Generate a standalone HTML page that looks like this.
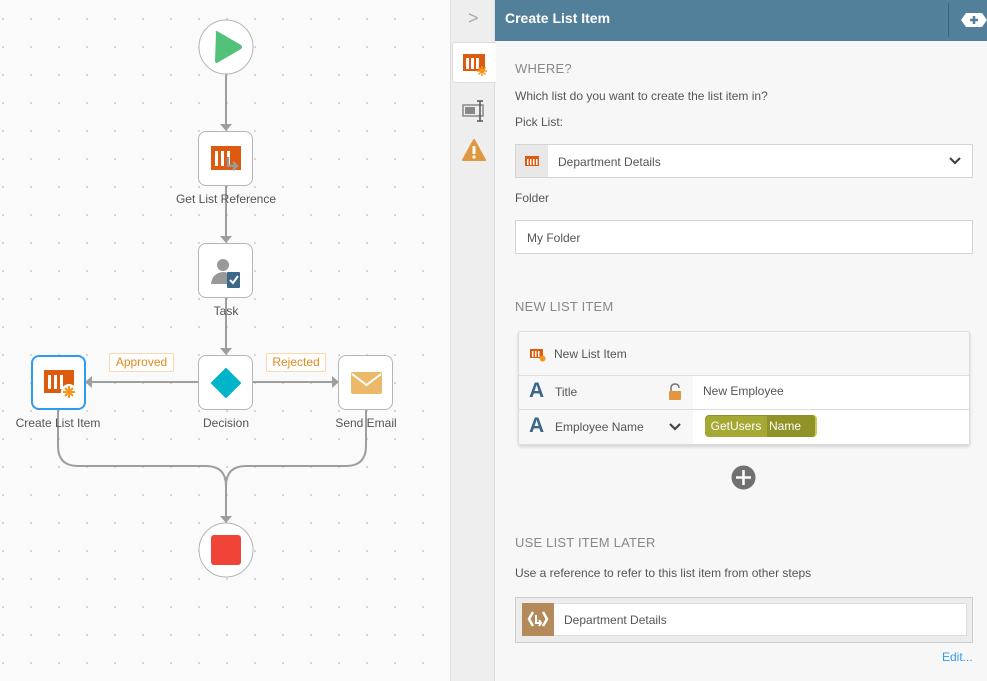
<!DOCTYPE html>
<html><head><meta charset="utf-8"><style>
*{box-sizing:border-box;margin:0;padding:0}
body{width:987px;height:681px;overflow:hidden;font-family:"Liberation Sans",sans-serif;background:#f7f7f7;position:relative}
.abs{position:absolute}
#canvas{left:0;top:0;width:450px;height:681px;background-color:#fafafa;background-image:radial-gradient(circle,#cfcfcf 0.8px,transparent 1.2px);background-size:28px 28px;background-position:-11px 5px}
.node{position:absolute;width:55px;height:55px;border:1px solid #b5b5b5;border-radius:8px;background:#fff}
.lbl{position:absolute;font-size:12px;color:#555;text-align:center;width:140px}
.t{position:absolute;font-size:12px;color:#555;white-space:nowrap}
.h{position:absolute;font-size:13px;color:#888;letter-spacing:.2px}
.box{position:absolute;background:#fff;border:1px solid #d4d4d4}
</style></head><body>
<div id="canvas" class="abs"></div>
<svg class="abs" style="left:0;top:0" width="450" height="681">
<g stroke="#9e9e9e" stroke-width="2" fill="none">
<line x1="226" y1="74" x2="226" y2="124"/>
<line x1="226" y1="186" x2="226" y2="236"/>
<line x1="226" y1="298" x2="226" y2="348"/>
<line x1="199" y1="382" x2="92" y2="382"/>
<line x1="253" y1="382" x2="332" y2="382"/>
<path d="M58 410 V446 Q58 466 78 466 H206 Q226 466 226 486 V516"/>
<path d="M366 410 V446 Q366 466 346 466 H246 Q226 466 226 486"/>
</g>
<g fill="#9e9e9e">
<path d="M220 124 L232 124 L226 131 Z"/><path d="M220 236 L232 236 L226 243 Z"/><path d="M220 348 L232 348 L226 355 Z"/>
<path d="M92 376 L92 388 L85 382 Z"/><path d="M332 376 L332 388 L339 382 Z"/><path d="M220 516 L232 516 L226 523 Z"/>
</g>
<circle cx="226" cy="47" r="27" fill="#fff" stroke="#b5b5b5"/>
<path d="M216 33 Q215 31 217 31 L241 45 Q243 47 241 49 L217 63 Q215 63 215 61 Z" fill="#52c27a"/>
<circle cx="226" cy="550" r="27" fill="#fff" stroke="#b5b5b5"/>
<rect x="211" y="535" width="30" height="30" rx="3" fill="#f04438"/>
</svg>
<div class="node" style="left:198px;top:131px"><svg width="55" height="55"><rect x="12" y="14" width="30" height="24" fill="#dd5a0e"/><g fill="#fff"><rect x="16" y="19" width="3" height="15"/><rect x="22" y="19" width="3" height="15"/><rect x="28" y="19" width="3" height="15"/></g><path d="M29 25 V34 H38 M34 30 L38 34 L34 38" stroke="#999" stroke-width="2.5" fill="none"/></svg></div>
<div class="lbl" style="left:156px;top:192px">Get List Reference</div>
<div class="node" style="left:198px;top:243px"><svg width="55" height="55"><circle cx="24" cy="21" r="6" fill="#999"/><path d="M12 40 Q13 29 24 28 Q30 28 32 32 V40 Z" fill="#999"/><rect x="28" y="28" width="13" height="16" rx="1" fill="#3b6888"/><path d="M31 36 L34 39 L39 32" stroke="#fff" stroke-width="2" fill="none"/></svg></div>
<div class="lbl" style="left:156px;top:304px">Task</div>
<div class="node" style="left:198px;top:355px"><svg width="55" height="55"><path d="M27 13 L41 27 L27 41 L13 27 Z" fill="#00b5c9" stroke="#00b5c9" stroke-width="2" stroke-linejoin="round"/></svg></div>
<div class="lbl" style="left:156px;top:416px">Decision</div>
<div class="node" style="left:31px;top:355px;border:2px solid #2d9bf0"><svg width="52" height="52"><rect x="11" y="13" width="30" height="23" fill="#dd5a0e"/><g fill="#fff"><rect x="15" y="18" width="3" height="14"/><rect x="21" y="18" width="3" height="14"/><rect x="27" y="18" width="3" height="14"/></g><circle cx="36" cy="35" r="8" fill="#fff"/><g stroke="#f7941d" stroke-width="2"><line x1="36" y1="29" x2="36" y2="41"/><line x1="30" y1="35" x2="42" y2="35"/><line x1="32" y1="31" x2="40" y2="39"/><line x1="40" y1="31" x2="32" y2="39"/></g></svg></div>
<div class="lbl" style="left:-12px;top:416px">Create List Item</div>
<div class="node" style="left:338px;top:355px"><svg width="55" height="55"><rect x="12" y="16" width="31" height="22" rx="2" fill="#ecb96a"/><path d="M13 18 L27.5 29 L42 18" stroke="#fff" stroke-width="2" fill="none"/></svg></div>
<div class="lbl" style="left:296px;top:416px">Send Email</div>
<div class="abs" style="left:109px;top:353px;width:65px;height:19px;border:1px solid #fbd9a8;border-radius:2px;background:#fff;color:#e08b22;font-size:12px;text-align:center;line-height:17px">Approved</div>
<div class="abs" style="left:266px;top:353px;width:60px;height:19px;border:1px solid #fbd9a8;border-radius:2px;background:#fff;color:#e08b22;font-size:12px;text-align:center;line-height:17px">Rejected</div>

<div class="abs" style="left:450px;top:0;width:45px;height:681px;background:#eeeeee;border-left:1px solid #ddd;border-right:1px solid #ddd"></div>
<div class="abs" style="left:468px;top:8px;color:#aaa;font-size:18px">&gt;</div>
<div class="abs" style="left:452px;top:42px;width:44px;height:41px;background:#fff;border:1px solid #ddd;border-right:none;border-radius:3px 0 0 3px"></div>
<svg class="abs" style="left:462px;top:52px" width="26" height="24"><rect x="1" y="2" width="22" height="17" fill="#dd5a0e"/><g fill="#fff"><rect x="4" y="6" width="3" height="11"/><rect x="9" y="6" width="3" height="11"/><rect x="14" y="6" width="3" height="11"/></g><g stroke="#f7941d" stroke-width="1.5"><line x1="20" y1="14" x2="20" y2="24"/><line x1="15" y1="19" x2="25" y2="19"/><line x1="16.5" y1="15.5" x2="23.5" y2="22.5"/><line x1="23.5" y1="15.5" x2="16.5" y2="22.5"/></g></svg>
<svg class="abs" style="left:462px;top:100px" width="26" height="22"><rect x="1" y="5" width="20" height="11" fill="none" stroke="#888" stroke-width="1.5"/><rect x="3" y="7" width="10" height="7" fill="#888"/><path d="M15 1 H21 M18 1 V21 M15 21 H21" stroke="#555" stroke-width="1.5"/></svg>
<svg class="abs" style="left:462px;top:138px" width="24" height="24"><path d="M12 2 L23 22 H1 Z" fill="#e0973d" stroke="#e0973d" stroke-linejoin="round" stroke-width="2"/><rect x="10.5" y="8" width="3" height="8" fill="#fff"/><circle cx="12" cy="19" r="1.6" fill="#fff"/></svg>

<div class="abs" style="left:495px;top:0;width:492px;height:41px;background:#52809a"></div>
<div class="abs" style="left:505px;top:10px;color:#fff;font-size:14px;font-weight:bold">Create List Item</div>
<div class="abs" style="left:948px;top:3px;width:1px;height:34px;background:#3e6378"></div>
<svg class="abs" style="left:960px;top:12px" width="27" height="16"><path d="M6 1 H22 L27 8 L22 15 H6 L1 8 Z" fill="#fff"/><path d="M14 4 V12 M10 8 H18" stroke="#52809a" stroke-width="2.5"/></svg>

<div class="h" style="left:515px;top:61px">WHERE?</div>
<div class="t" style="left:515px;top:89px">Which list do you want to create the list item in?</div>
<div class="t" style="left:515px;top:115px">Pick List:</div>
<div class="box" style="left:515px;top:144px;width:458px;height:34px"><div class="abs" style="left:0;top:0;width:32px;height:32px;background:#e8e8e8"></div>
<svg class="abs" style="left:9px;top:11px" width="14" height="10"><rect width="14" height="10" fill="#dd5a0e"/><g fill="#fff"><rect x="2" y="3" width="1.5" height="6"/><rect x="5" y="3" width="1.5" height="6"/><rect x="8" y="3" width="1.5" height="6"/><rect x="11" y="3" width="1.5" height="6"/></g></svg>
<div class="t" style="left:42px;top:10px;font-size:12px">Department Details</div>
<svg class="abs" style="left:432px;top:11px" width="14" height="10"><path d="M2 2 L7 7 L12 2" stroke="#444" stroke-width="2.2" fill="none"/></svg></div>
<div class="t" style="left:515px;top:191px">Folder</div>
<div class="box" style="left:515px;top:220px;width:458px;height:34px"><div class="t" style="left:11px;top:10px">My Folder</div></div>
<div class="h" style="left:515px;top:299px">NEW LIST ITEM</div>
<div class="abs" style="left:518px;top:331px;width:452px;height:114px;border:1px solid #ddd;border-radius:3px;background:#f7f7f7;box-shadow:0 2px 3px rgba(0,0,0,.15)">
<svg class="abs" style="left:11px;top:16px" width="16" height="14"><rect x="0" y="1" width="13" height="9" fill="#dd5a0e"/><g fill="#fff"><rect x="2" y="3" width="1.5" height="6"/><rect x="5" y="3" width="1.5" height="6"/><rect x="8" y="3" width="1.5" height="6"/></g><circle cx="12.5" cy="10.5" r="3" fill="#f7941d"/></svg>
<div class="t" style="left:35px;top:15px">New List Item</div>
<div class="abs" style="left:0;top:43px;width:450px;height:1px;background:#ddd"></div>
<div class="abs" style="left:174px;top:44px;width:276px;height:34px;background:#fff"></div>
<div class="abs" style="left:0;top:77px;width:450px;height:1px;background:#ddd"></div>
<div class="abs" style="left:174px;top:78px;width:276px;height:34px;background:#fff"></div>
<div class="abs" style="left:10px;top:47px;font-size:21px;font-weight:bold;color:#3b6888">A</div>
<div class="t" style="left:36px;top:53px">Title</div>
<svg class="abs" style="left:149px;top:51px" width="14" height="17"><path d="M3 8 V5 Q3 1 7 1 Q11 1 11 5" stroke="#777" stroke-width="1.5" fill="none"/><rect x="1" y="8" width="12" height="9" rx="1" fill="#e0973d"/></svg>
<div class="t" style="left:184px;top:52px">New Employee</div>
<div class="abs" style="left:10px;top:82px;font-size:21px;font-weight:bold;color:#3b6888">A</div>
<div class="t" style="left:36px;top:88px">Employee Name</div>
<svg class="abs" style="left:149px;top:90px" width="14" height="10"><path d="M2 2 L7 7 L12 2" stroke="#444" stroke-width="2.2" fill="none"/></svg>
<div class="abs" style="left:186px;top:83px;width:112px;height:22px;border-radius:4px;background:#8f9328;border-right:2px solid #c9cc4f"></div>
<div class="abs" style="left:186px;top:84px;width:62px;height:21px;border-radius:4px 0 0 4px;background:#a5a832;color:#fff;font-size:12px;line-height:21px;text-align:center">GetUsers</div>
<div class="abs" style="left:250px;top:84px;color:#fff;font-size:12px;line-height:21px">Name</div>
</div>
<svg class="abs" style="left:731px;top:465px" width="25" height="25"><circle cx="12.5" cy="12.5" r="12" fill="#707070"/><path d="M12.5 5 V20 M5 12.5 H20" stroke="#fff" stroke-width="2.5"/></svg>
<div class="h" style="left:515px;top:535px">USE LIST ITEM LATER</div>
<div class="t" style="left:515px;top:566px">Use a reference to refer to this list item from other steps</div>
<div class="abs" style="left:515px;top:597px;width:458px;height:46px;background:#ececec;border:1px solid #ccc"></div>
<div class="abs" style="left:522px;top:603px;width:445px;height:33px;background:#fff;border:1px solid #ddd"></div>
<div class="abs" style="left:522px;top:603px;width:32px;height:33px;background:#b58a5a"></div>
<svg class="abs" style="left:526px;top:607px" width="24" height="24"><path d="M7 5 L3 12 L7 19 M17 5 L21 12 L17 19" stroke="#fff" stroke-width="2.5" fill="none"/><path d="M10 8 V16 H15 M13 13 L15 16 L13 19" stroke="#fff" stroke-width="2" fill="none"/></svg>
<div class="t" style="left:564px;top:613px">Department Details</div>
<div class="t" style="left:942px;top:650px;color:#2d9bf0">Edit...</div>
</body></html>
